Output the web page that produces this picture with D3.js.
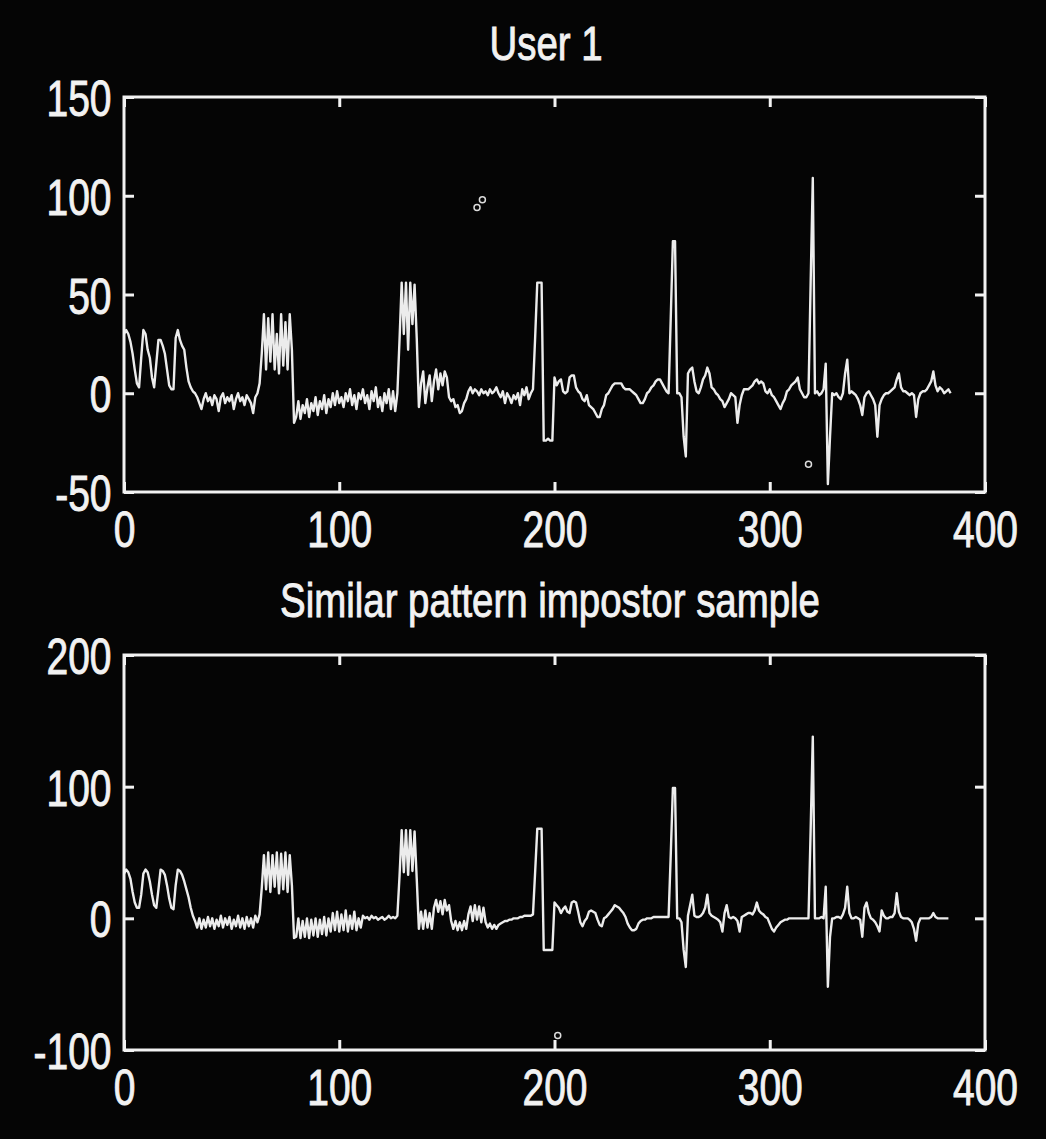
<!DOCTYPE html>
<html>
<head>
<meta charset="utf-8">
<script src="https://cdn.jsdelivr.net/npm/d3@7"></script>
<style>
  html, body { margin: 0; padding: 0; background: #fff; }
  svg { display: block; }
  text { font-family: "Liberation Sans", Arial, Helvetica, sans-serif; fill: #f2f2f2; stroke: #f2f2f2; stroke-width: 0.9px; }
</style>
</head>
<body>
<div id="chart"></div>
<script>
// keystroke signal, one value per sample
const user1 = [
  30, 32, 30, 26, 20, 12, 5, 3, 18, 32,
  30, 22, 18, 8, 3, 15, 27, 27, 24, 20,
  12, 4, 2, 2, 28, 32, 27, 24, 22, 13,
  6, 3, 1, 0, -2, -5, -8, -3, 0, -4,
  -2, -6, -1, -3, -9, -2, 0, -5, -2, -4,
  -1, -8, -3, 0, -4, -2, -6, -1, -3, -5,
  -10, -2, 0, 5, 20, 40, 12, 38, 16, 40,
  12, 30, 10, 40, 14, 36, 12, 40, 22, -15,
  -12, -4, -13, -6, -10, -3, -12, -5, -9, -2,
  -11, -4, -8, -1, -10, -3, -7, 0, -6, 1,
  -5, -2, -7, 0, -4, 2, -6, -1, -8, 0,
  -3, 2, -5, -1, -8, 1, -4, 3, -7, -2,
  -9, 0, -5, 2, -8, 1, -9, 0, 27, 56,
  30, 56, 22, 56, 35, 55, 28, -7, 5, 11,
  -5, 3, 9, -4, 6, 12, 2, 10, 4, 11,
  8, -2, -4, -3, -7, -6, -10, -9, -5, -3,
  1, 3, 0, 2, 1, -1, 2, 0, 1, -1,
  2, 0, 1, 3, 0, -2, 1, -5, 0, -2,
  -5, -1, -3, 0, -6, 2, -1, 3, -3, 0,
  2, 28, 56, 56, 56, -24, -24, -23, -24, -24,
  8, 4, 6, 7, 1, 0, 1, 8, 9, 9,
  3, 1, 0, -3, -4, -1, -6, -7, -8, -10,
  -12, -12, -8, -6, -1, 0, 2, 4, 5, 5,
  5, 5, 3, 2, 2, 2, 1, 0, -1, -3,
  -5, -5, -3, 0, 1, 3, 4, 6, 7, 7,
  5, 3, 1, 0, 38, 77, 77, 0, 0, -2,
  -22, -32, 10, 12, 13, 6, 1, 0, 3, 7,
  9, 13, 10, 3, 2, 0, -1, -3, -4, -7,
  -5, -3, 0, -1, -2, -15, -6, -1, 2, 2,
  2, 3, 4, 6, 7, 5, 6, 5, 1, 0,
  2, -1, -2, -4, -6, -8, -5, -3, 1, 2,
  4, 5, 6, 8, 2, 0, -2, -2, 0, 56,
  109, 0, 1, -1, 0, 2, 15, -46, -22, 0,
  -1, 0, -2, -3, 0, 10, 17, 0, 1, 0,
  -1, -3, -6, -11, -2, 0, 1, -1, -3, -6,
  -22, -6, -3, -1, 0, 0, 1, 2, 3, 7,
  10, 3, 1, 1, 0, -1, 0, -1, -12, -3,
  0, 1, 1, 2, 4, 6, 11, 4, 1, 3,
  2, 0, 1, 2, 0
];

const impostor = [
  34, 37, 35, 30, 20, 12, 8, 8, 18, 34,
  37, 35, 28, 18, 10, 8, 22, 37, 36, 33,
  25, 15, 8, 7, 25, 37, 36, 33, 28, 22,
  16, 8, 2, -2, -7, 0, -8, -1, -7, 1,
  -6, 0, -8, -1, -6, 2, -7, 0, -5, 1,
  -8, -1, -6, 2, -7, 0, -8, 1, -6, 0,
  -7, 2, -3, 3, 23, 48, 22, 50, 20, 48,
  24, 50, 19, 49, 22, 50, 20, 48, 25, -15,
  -14, 0, -15, -2, -14, 0, -15, -1, -13, 0,
  -14, -1, -12, 1, -13, 0, -10, 4, -9, 5,
  -10, 3, -9, 6, -10, 2, -8, 5, -9, 0,
  -7, 2, 0, 1, -1, 2, 0, 1, -1, 0,
  1, -1, 0, 2, 0, 1, 0, 2, 32, 67,
  35, 67, 33, 67, 36, 66, 30, -8, 5, -8,
  6, -7, 4, -8, 8, 14, 5, 13, 3, 14,
  6, 10, -2, -8, -2, -9, -3, -9, -2, -8,
  3, 9, -2, 10, -1, 9, -3, 8, -3, -7,
  -4, -8, -5, -8, -5, -4, -3, -2, -2, -1,
  -1, 0, 0, 0, 1, 1, 2, 2, 2, 2,
  3, 35, 68, 68, 68, -24, -24, -24, -24, -24,
  12, 10, 8, 4, 7, 9, 5, 4, 12, 13,
  12, 5, -3, -6, -2, 0, 5, 6, 5, 4,
  -1, -5, -6, 0, 1, 3, 5, 7, 10, 9,
  8, 6, 4, 1, -4, -7, -9, -9, -8, -4,
  -2, -1, -1, 0, 0, 0, 1, 1, 1, 1,
  1, 1, 1, 1, 48, 99, 99, 0, 0, -3,
  -24, -37, 2, 10, 18, 2, 1, 1, 2, 4,
  8, 18, 4, 2, 1, 0, -1, -3, -10, 4,
  10, 1, 0, 1, 0, -2, -10, 1, 2, 3,
  4, 4, 3, 6, 12, 6, 4, 3, 1, 0,
  -4, -8, -10, -7, -5, -3, -2, -1, -1, 0,
  0, 0, 0, 0, 0, 0, 0, 0, 0, 67,
  138, 0, 0, 0, 1, 0, 24, -52, -14, 0,
  0, 1, 1, 0, 3, 8, 24, 4, 0, 0,
  1, 0, -1, -14, 8, 12, 4, 0, -1, -3,
  -6, -10, 6, 2, 0, 0, 1, 1, 4, 19,
  5, 1, 0, 0, 0, -1, -3, -8, -17, -4,
  0, 0, 0, 0, 0, 1, 4, 1, 0, 0,
  0, 0, 0, 0
];

// stray 'o' markers that show in the plots, [sample, value]
const user1Marks = [[164, 94], [166.5, 98], [318, -36]];
const impostorMarks = [[201.5, -89]];

const xTicks = [0, 100, 200, 300, 400];
const user1Ticks = [-50, 0, 50, 100, 150];
const impostorTicks = [-100, 0, 100, 200];

const titles = ["User 1", "Similar pattern impostor sample"];

const W = 1046, H = 1139;
const left = 124, right = 985;

const svg = d3.select("#chart").append("svg")
    .attr("width", W)
    .attr("height", H);

svg.append("rect")
    .attr("x", 0).attr("y", 0)
    .attr("width", W).attr("height", H)
    .attr("fill", "#050505");

const x = d3.scaleLinear().domain([0, 400]).range([left, right]);

// plain hyphen for negatives, like the original
const fmt = d => String(d);

function drawPanel(opts) {
    const y = d3.scaleLinear().domain(opts.domain).range([opts.bottom, opts.top]);
    const g = svg.append("g");

    // title
    g.append("text")
        .attr("transform", `translate(${opts.titleX},${opts.titleY}) scale(0.8,1)`)
        .attr("text-anchor", "middle")
        .style("font-size", "48px")
        .text(opts.title);

    // the signal
    const line = d3.line()
        .x((d, i) => x(i))
        .y(d => y(d));

    g.append("path")
        .datum(opts.values)
        .attr("fill", "none")
        .attr("stroke", "#ececec")
        .attr("stroke-width", 2.4)
        .attr("stroke-linejoin", "round")
        .attr("d", line);

    g.selectAll("circle.mark")
        .data(opts.marks)
        .enter()
        .append("circle")
        .attr("class", "mark")
        .attr("cx", d => x(d[0]))
        .attr("cy", d => y(d[1]))
        .attr("r", 3)
        .attr("fill", "none")
        .attr("stroke", "#dcdcdc")
        .attr("stroke-width", 1.5);

    // axes with inward ticks
    const bottomAxis = g.append("g")
        .attr("transform", `translate(0,${opts.bottom})`)
        .call(d3.axisBottom(x).tickValues(xTicks).tickSize(-10).tickPadding(20).tickFormat(fmt));
    const leftAxis = g.append("g")
        .attr("transform", `translate(${left},0)`)
        .call(d3.axisLeft(y).tickValues(opts.ticks).tickSize(-10).tickPadding(16).tickFormat(fmt));
    g.append("g")
        .attr("transform", `translate(0,${opts.top})`)
        .call(d3.axisTop(x).tickValues(xTicks).tickSize(-10).tickFormat(""));
    g.append("g")
        .attr("transform", `translate(${right},0)`)
        .call(d3.axisRight(y).tickValues(opts.ticks).tickSize(-10).tickFormat(""));

    g.selectAll(".domain").remove();
    g.selectAll(".tick line")
        .attr("stroke", "#f2f2f2")
        .attr("stroke-width", 3);

    bottomAxis.selectAll("text")
        .attr("fill", "#f2f2f2")
        .attr("transform", "scale(0.78,1)")
        .style("font-size", "50px")
        .style("font-family", "'Liberation Sans', Arial, sans-serif");
    leftAxis.selectAll("text")
        .attr("fill", "#f2f2f2")
        .attr("dy", "0.37em")
        .attr("transform", "scale(0.78,1)")
        .style("font-size", "50px")
        .style("font-family", "'Liberation Sans', Arial, sans-serif");

    // box
    g.append("rect")
        .attr("x", left).attr("y", opts.top)
        .attr("width", right - left).attr("height", opts.bottom - opts.top)
        .attr("fill", "none")
        .attr("stroke", "#f2f2f2")
        .attr("stroke-width", 3);
}

drawPanel({
    title: titles[0], titleX: 546, titleY: 60,
    values: user1, marks: user1Marks,
    domain: [-50, 150], ticks: user1Ticks,
    top: 97, bottom: 492
});

drawPanel({
    title: titles[1], titleX: 550, titleY: 617,
    values: impostor, marks: impostorMarks,
    domain: [-100, 200], ticks: impostorTicks,
    top: 655, bottom: 1050
});
</script>
</body>
</html>
